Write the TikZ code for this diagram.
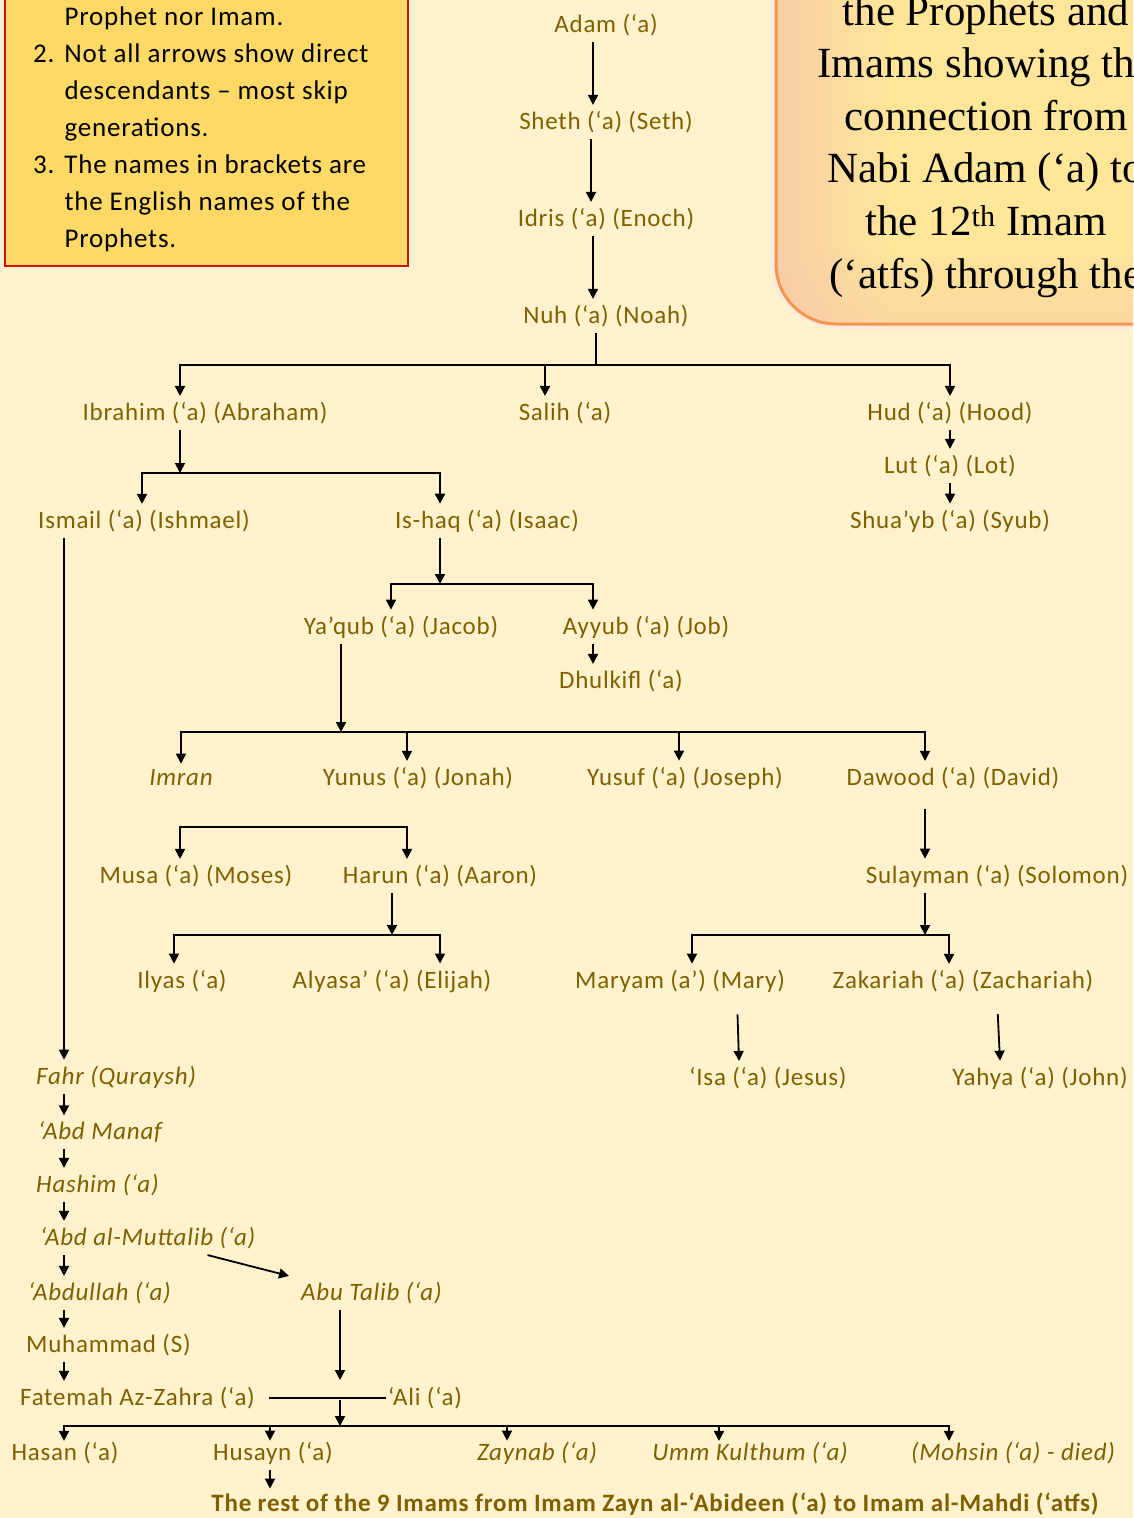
\documentclass[tikz,border=0pt]{standalone}
\usepackage{fontspec}
\setmainfont{Carlito}[LetterSpace=3]
\newfontfamily\titlefont{Liberation Serif}
\usetikzlibrary{arrows.meta, positioning}

\definecolor{paper}{RGB}{255,242,204}
\definecolor{namebrown}{RGB}{127,96,0}
\definecolor{notegold}{RGB}{255,217,102}
\definecolor{notered}{RGB}{200,20,20}
\definecolor{titlepeach}{RGB}{248,200,170}
\definecolor{titleyellow}{RGB}{255,230,153}
\definecolor{titleedge}{RGB}{244,150,80}

\begin{document}
\begin{tikzpicture}[
    x=1pt, y=-1pt,
    node distance=97pt,
    prophet/.style={
        font=\fontsize{25}{29}\selectfont,
        text=namebrown,
        inner xsep=2pt,
        inner ysep=6pt
    },
    kin/.style={
        prophet,
        font=\fontsize{25}{29}\selectfont\itshape
    },
    line/.style={
        draw,
        -{Triangle[length=10pt,width=10pt]},
        line width=1.8pt
    },
    drop/.style={
        line,
        shorten >=-5pt
    },
    bus/.style={
        draw,
        line width=1.8pt
    }
]

\useasboundingbox (0,0) rectangle (1133,1518);
\clip (0,0) rectangle (1133,1518);
\fill [paper] (0,0) rectangle (1133,1518);

% Boxes
\path [draw=notered, line width=2.5pt, fill=notegold] (5,-20) rectangle (408,266);
\node [anchor=base west, inner sep=0pt, font=\fontsize{27}{37}\selectfont] (notes) at (33,25) {%
  \begin{tabular}[t]{@{}l@{\hspace{10pt}}l@{}}
     & Prophet nor Imam.\\
  2. & Not all arrows show direct\\
     & descendants – most skip\\
     & generations.\\
  3. & The names in brackets are\\
     & the English names of the\\
     & Prophets.
  \end{tabular}};

\path [draw=titleedge!20, line width=10pt, rounded corners=62pt] (776,-100) rectangle (1200,324);
\begin{scope}
  \clip [rounded corners=60pt] (776,-100) rectangle (1200,324);
  \fill [titleyellow] (776,-100) rectangle (1200,324);
  % left and bottom tint
  \foreach \k in {0,...,23} {
    \pgfmathsetmacro\tint{80-\k*80/23}
    \fill [titlepeach!\tint!titleyellow] (776+\k*5,-100) rectangle (782+\k*5,324);
  }
  \foreach \k in {0,...,15} {
    \pgfmathsetmacro\fade{\k/15*0.45}
    \fill [titlepeach, opacity=\fade] (776,245+\k*5) rectangle (1200,250+\k*5);
  }
\end{scope}
\path [draw=titleedge, line width=3pt, rounded corners=60pt] (776,-100) rectangle (1200,324);
\node [anchor=base, inner sep=0pt, font=\titlefont\fontsize{43}{52.6}\selectfont] (title) at (986,25) {%
  \begin{tabular}[t]{@{}c@{}}
  the Prophets and\\
  Imams showing the\\
  connection from\\
  Nabi Adam (‘a) to\\
  the 12\textsuperscript{th} Imam\\
  (‘atfs) through the
  \end{tabular}};

% Nodes
\node [prophet] (adam) at (606,25) {Adam (‘a)};
\node [prophet, below of=adam] (sheth) {Sheth (‘a) (Seth)};
\node [prophet, below of=sheth] (idris) {Idris (‘a) (Enoch)};
\node [prophet, below of=idris] (nuh) {Nuh (‘a) (Noah)};

\node [prophet] (ibrahim) at (205,413) {Ibrahim (‘a) (Abraham)};
\node [prophet] (salih) at (565,413) {Salih (‘a)};
\node [prophet] (hud) at (950,413) {Hud (‘a) (Hood)};
\node [prophet, below of=hud, node distance=53pt] (lut) {Lut (‘a) (Lot)};
\node [prophet, below of=lut, node distance=55pt] (shuayb) {Shua’yb (‘a) (Syub)};

\node [prophet] (ismail) at (144,521) {Ismail (‘a) (Ishmael)};
\node [prophet] (ishaq) at (487,521) {Is-haq (‘a) (Isaac)};
\node [prophet] (yaqub) at (401,627) {Ya’qub (‘a) (Jacob)};
\node [prophet] (ayyub) at (646,627) {Ayyub (‘a) (Job)};
\node [prophet] (dhulkifl) at (621,681) {Dhulkifl (‘a)};

\node [kin] (imran) at (181,778) {Imran};
\node [prophet] (yunus) at (418,778) {Yunus (‘a) (Jonah)};
\node [prophet] (yusuf) at (685,778) {Yusuf (‘a) (Joseph)};
\node [prophet] (dawood) at (953,778) {Dawood (‘a) (David)};
\node [prophet] (musa) at (196,876) {Musa (‘a) (Moses)};
\node [prophet] (harun) at (440,876) {Harun (‘a) (Aaron)};
\node [prophet] (sulayman) at (997,876) {Sulayman (‘a) (Solomon)};
\node [prophet] (ilyas) at (182,981) {Ilyas (‘a)};
\node [prophet] (alyasa) at (392,981) {Alyasa’ (‘a) (Elijah)};
\node [prophet] (maryam) at (680,981) {Maryam (a’) (Mary)};
\node [prophet] (zakariah) at (963,981) {Zakariah (‘a) (Zachariah)};
\node [prophet] (isa) at (768,1078) {‘Isa (‘a) (Jesus)};
\node [prophet] (yahya) at (1040,1078) {Yahya (‘a) (John)};

\node [kin, anchor=west] (fahr) at (34,1077) {Fahr (Quraysh)};
\node [kin, anchor=west] (manaf) at (36,1132) {‘Abd Manaf};
\node [kin, anchor=west] (hashim) at (34,1185) {Hashim (‘a)};
\node [kin, anchor=west] (muttalib) at (38,1238) {‘Abd al-Muttalib (‘a)};
\node [kin, anchor=west] (abdullah) at (26,1293) {‘Abdullah (‘a)};
\node [prophet, anchor=west] (muhammad) at (24,1345) {Muhammad (S)};
\node [prophet, anchor=west] (fatemah) at (18,1398) {Fatemah Az-Zahra (‘a)};
\node [kin, anchor=west] (abutalib) at (299,1293) {Abu Talib (‘a)};
\node [prophet, anchor=west] (ali) at (386,1398) {‘Ali (‘a)};

\node [prophet] (hasan) at (65,1453) {Hasan (‘a)};
\node [prophet] (husayn) at (273,1453) {Husayn (‘a)};
\node [kin] (zaynab) at (537,1453) {Zaynab (‘a)};
\node [kin] (kulthum) at (750,1453) {Umm Kulthum (‘a)};
\node [kin] (mohsin) at (1013,1453) {(Mohsin (‘a) - died)};
\node [prophet, font=\fontsize{25}{28}\selectfont\bfseries, inner ysep=4pt] (rest) at (655,1504)
    {The rest of the 9 Imams from Imam Zayn al-‘Abideen (‘a) to Imam al-Mahdi (‘atfs)};

% Junctions
\coordinate (nuhbus) at (596,365);
\coordinate (ibrahimbus) at (180,473);
\coordinate (ishaqbus) at (440,584);
\coordinate (yaqubbus) at (341,732);
\coordinate (imranbus) at (294,827);
\coordinate (harunbus) at (392,935);
\coordinate (sulaymanbus) at (925,935);
\coordinate (leftcol) at (64,0);
\coordinate (wedding) at (340,1400);
\coordinate (kidsbus) at (340,1426);

% Paths
\path [line] ([xshift=-13pt]adam.south) -- ([xshift=-13pt]sheth.north);
\path [line] ([xshift=-15pt]sheth.south) -- ([xshift=-15pt]idris.north);
\path [line] ([xshift=-13pt]idris.south) -- ([xshift=-13pt]nuh.north);

\path [bus] ([xshift=-10pt]nuh.south) -- (nuhbus);
\path [line] (nuhbus) -| ([xshift=-25pt]ibrahim.north);
\path [line] (nuhbus) -| ([xshift=-20pt]salih.north);
\path [line] (nuhbus) -| (hud.north);
\path [line] (hud.south) -- (lut.north);
\path [line] (lut.south) -- (shuayb.north);

\path [line] ([xshift=-25pt]ibrahim.south) -- (ibrahimbus);
\path [line] (ibrahimbus) -| ([xshift=-2pt]ismail.north);
\path [line] (ibrahimbus) -| ([xshift=-47pt]ishaq.north);
\path [line] (ismail.south -| leftcol) -- (fahr.north -| leftcol);

\path [line] ([xshift=-47pt]ishaq.south) -- (ishaqbus);
\path [line] (ishaqbus) -| ([xshift=-10pt]yaqub.north);
\path [line] (ishaqbus) -| ([xshift=-53pt]ayyub.north);
\path [line] ([xshift=-53pt]ayyub.south) -- ([xshift=-28pt]dhulkifl.north);

\path [line] ([xshift=-60pt]yaqub.south) -- (yaqubbus);
\path [line] (yaqubbus) -| (imran.north);
\path [line] (yaqubbus) -| ([xshift=-11pt]yunus.north);
\path [line] (yaqubbus) -| ([xshift=-6pt]yusuf.north);
\path [line] (yaqubbus) -| ([xshift=-28pt]dawood.north);

\path [line] (imranbus) -| ([xshift=-16pt]musa.north);
\path [line] (imranbus) -| ([xshift=-33pt]harun.north);
\path [line] ([xshift=-48pt]harun.south) -- (harunbus);
\path [line] (harunbus) -| ([xshift=-8pt]ilyas.north);
\path [line] (harunbus) -| ([xshift=48pt]alyasa.north);

\path [line, shorten <=14pt] ([xshift=-28pt]dawood.south) -- ([xshift=-72pt]sulayman.north);
\path [line] ([xshift=-72pt]sulayman.south) -- (sulaymanbus);
\path [line] (sulaymanbus) -| ([xshift=12pt]maryam.north);
\path [line] (sulaymanbus) -| ([xshift=-14pt]zakariah.north);
\path [line, shorten <=16pt] ([xshift=57pt]maryam.south) -- ([xshift=-29pt]isa.north);
\path [line, shorten <=16pt] ([xshift=34pt]zakariah.south) -- ([xshift=-40pt]yahya.north);

\path [line] (fahr.south -| leftcol) -- (manaf.north -| leftcol);
\path [line] (manaf.south -| leftcol) -- (hashim.north -| leftcol);
\path [line] (hashim.south -| leftcol) -- (muttalib.north -| leftcol);
\path [line] (muttalib.south -| leftcol) -- (abdullah.north -| leftcol);
\path [line] (abdullah.south -| leftcol) -- (muhammad.north -| leftcol);
\path [line] (muhammad.south -| leftcol) -- (fatemah.north -| leftcol);
\path [line] ([xshift=-50pt]muttalib.south east) -- ([xshift=-10pt]abutalib.north west);

\path [line] (abutalib.south -| wedding) -- ([yshift=20pt]wedding);
\path [bus] ([xshift=12pt]fatemah.east) -- (ali.west);
\path [line] (wedding) -- (kidsbus);
\path [drop] (kidsbus) -| (hasan.north -| leftcol);
\path [drop] (kidsbus) -| ([xshift=-3pt]husayn.north);
\path [drop] (kidsbus) -| ([xshift=-30pt]zaynab.north);
\path [drop] (kidsbus) -| ([xshift=-31pt]kulthum.north);
\path [drop] (kidsbus) -| ([xshift=-64pt]mohsin.north);
\path [line] ([xshift=-3pt]husayn.south) -- ([xshift=-3pt]husayn.south |- rest.north);

\end{tikzpicture}
\end{document}
